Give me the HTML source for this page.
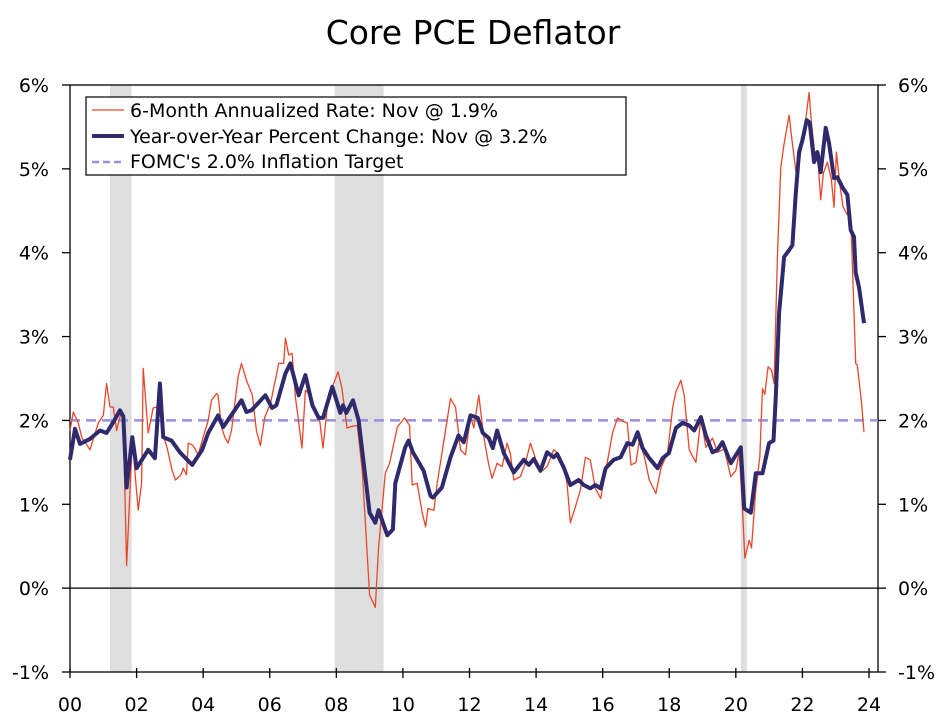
<!DOCTYPE html>
<html><head><meta charset="utf-8"><style>
html,body{margin:0;padding:0;background:#fff;}
svg{display:block;font-family:"DejaVu Sans","Liberation Sans",sans-serif;}
</style></head><body>
<svg id="chart" width="949" height="727" viewBox="0 0 949 727" xmlns="http://www.w3.org/2000/svg">
<text x="473" y="44" text-anchor="middle" font-size="33">Core PCE Deflator</text>
<g id="recessions"></g>
<g id="grid"></g>
<g id="series"></g>
<g>
<rect x="86" y="97" width="540" height="78" fill="#fff" stroke="#000" stroke-width="1.2"/>
<line x1="92" y1="110" x2="124" y2="110" stroke="#e8472a" stroke-width="1.3"/>
<text x="130" y="117" font-size="19">6-Month Annualized Rate: Nov @ 1.9%</text>
<line x1="92" y1="136" x2="124" y2="136" stroke="#2e2a6b" stroke-width="4"/>
<text x="130" y="143" font-size="19">Year-over-Year Percent Change: Nov @ 3.2%</text>
<line x1="92" y1="162" x2="124" y2="162" stroke="#9b8fe0" stroke-width="2.5" stroke-dasharray="7 4"/>
<text x="130" y="168" font-size="19">FOMC's 2.0% Inflation Target</text>
</g>
</svg>
<script>
const recessionStarts = [2001.2, 2007.95, 2020.15];
const recessionEnds = [2001.85, 2009.42, 2020.33];
const yTicks = [-1, 0, 1, 2, 3, 4, 5, 6];
const xTickYears = [2000,2002,2004,2006,2008,2010,2012,2014,2016,2018,2020,2022,2024];
const xTickLabels = ["00","02","04","06","08","10","12","14","16","18","20","22","24"];
const targetValue = 2.0;
const yoyDates = [2000.0,2000.15,2000.3,2000.6,2000.9,2001.1,2001.3,2001.5,2001.6,2001.7,2001.87,2002.0,2002.35,2002.55,2002.7,2002.8,2003.05,2003.3,2003.67,2003.97,2004.15,2004.45,2004.6,2005.05,2005.15,2005.3,2005.45,2005.87,2006.07,2006.2,2006.47,2006.62,2006.87,2007.07,2007.28,2007.47,2007.6,2007.88,2008.12,2008.2,2008.3,2008.5,2008.67,2009.0,2009.17,2009.27,2009.53,2009.7,2009.77,2010.07,2010.17,2010.3,2010.62,2010.83,2010.9,2011.17,2011.43,2011.67,2011.83,2012.03,2012.25,2012.4,2012.58,2012.7,2012.83,2013.03,2013.33,2013.63,2013.78,2013.93,2014.13,2014.33,2014.53,2014.63,2014.83,2015.03,2015.28,2015.43,2015.63,2015.78,2015.94,2016.09,2016.33,2016.54,2016.74,2016.9,2017.05,2017.2,2017.4,2017.65,2017.8,2017.99,2018.2,2018.4,2018.6,2018.75,2018.95,2019.1,2019.3,2019.45,2019.6,2019.85,2020.1,2020.15,2020.25,2020.45,2020.6,2020.8,2021.0,2021.13,2021.2,2021.3,2021.45,2021.6,2021.7,2021.8,2021.9,2022.0,2022.13,2022.22,2022.35,2022.45,2022.55,2022.7,2022.8,2022.95,2023.05,2023.2,2023.35,2023.45,2023.55,2023.6,2023.7,2023.85];
const yoyValues = [1.53,1.9,1.72,1.78,1.88,1.85,1.98,2.12,2.05,1.2,1.8,1.43,1.65,1.55,2.44,1.8,1.76,1.62,1.47,1.65,1.85,2.06,1.92,2.18,2.24,2.1,2.12,2.3,2.15,2.18,2.56,2.68,2.3,2.54,2.18,2.03,2.03,2.4,2.09,2.18,2.09,2.24,2.0,0.9,0.78,0.93,0.63,0.7,1.25,1.68,1.76,1.62,1.4,1.1,1.08,1.2,1.56,1.82,1.74,2.06,2.03,1.85,1.79,1.67,1.88,1.61,1.38,1.53,1.47,1.54,1.4,1.62,1.56,1.6,1.44,1.23,1.29,1.23,1.19,1.23,1.19,1.43,1.53,1.56,1.73,1.71,1.86,1.67,1.55,1.43,1.55,1.61,1.91,1.97,1.94,1.88,2.04,1.82,1.62,1.65,1.74,1.49,1.65,1.68,0.95,0.9,1.37,1.37,1.73,1.76,2.28,3.28,3.95,4.03,4.09,4.71,5.2,5.34,5.58,5.55,5.08,5.2,4.96,5.49,5.31,4.89,4.9,4.78,4.69,4.27,4.19,3.76,3.59,3.16];
const sixDates = [2000.0,2000.1,2000.25,2000.35,2000.6,2000.85,2001.0,2001.1,2001.2,2001.3,2001.4,2001.55,2001.6,2001.7,2001.87,2002.05,2002.15,2002.2,2002.35,2002.5,2002.65,2002.72,2002.82,2002.92,2003.07,2003.17,2003.33,2003.4,2003.5,2003.55,2003.7,2003.85,2004.0,2004.15,2004.25,2004.4,2004.45,2004.55,2004.65,2004.75,2004.85,2005.05,2005.15,2005.3,2005.48,2005.6,2005.72,2005.85,2006.02,2006.2,2006.27,2006.42,2006.47,2006.57,2006.67,2006.77,2006.97,2007.07,2007.25,2007.35,2007.5,2007.6,2007.77,2007.92,2008.05,2008.17,2008.32,2008.47,2008.63,2008.78,2009.0,2009.17,2009.27,2009.47,2009.6,2009.83,2010.05,2010.2,2010.28,2010.43,2010.58,2010.68,2010.75,2010.93,2011.03,2011.23,2011.43,2011.58,2011.73,2011.88,2012.03,2012.13,2012.28,2012.43,2012.58,2012.68,2012.83,2012.98,2013.13,2013.23,2013.33,2013.53,2013.68,2013.83,2013.98,2014.13,2014.33,2014.53,2014.68,2014.83,2014.93,2015.03,2015.18,2015.33,2015.48,2015.63,2015.78,2015.94,2016.09,2016.3,2016.45,2016.6,2016.74,2016.85,2017.0,2017.1,2017.25,2017.4,2017.6,2017.75,2017.95,2018.1,2018.2,2018.35,2018.45,2018.6,2018.8,2018.95,2019.1,2019.3,2019.45,2019.65,2019.85,2020.0,2020.1,2020.2,2020.27,2020.4,2020.47,2020.6,2020.72,2020.8,2020.87,2020.97,2021.07,2021.15,2021.25,2021.35,2021.45,2021.6,2021.7,2021.82,2021.97,2022.07,2022.2,2022.27,2022.37,2022.45,2022.55,2022.63,2022.75,2022.87,2022.95,2023.02,2023.12,2023.22,2023.35,2023.45,2023.6,2023.65,2023.77,2023.85];
const sixValues = [1.88,2.1,1.97,1.8,1.65,1.97,2.06,2.44,2.16,2.16,1.88,2.12,1.94,0.27,1.76,0.93,1.25,2.62,1.85,2.15,2.16,2.44,1.8,1.67,1.4,1.29,1.35,1.43,1.35,1.73,1.7,1.59,1.8,2.0,2.24,2.32,2.3,1.92,1.8,1.73,1.88,2.52,2.68,2.48,2.3,1.88,1.7,2.04,2.2,2.54,2.68,2.68,2.98,2.78,2.8,2.28,1.67,2.36,2.28,2.12,2.0,1.67,2.32,2.44,2.58,2.38,1.91,1.93,1.94,1.4,-0.08,-0.23,0.49,1.37,1.49,1.92,2.03,1.94,1.23,1.25,0.9,0.73,0.95,0.93,1.25,1.76,2.26,2.16,1.65,1.59,2.06,1.91,2.3,1.8,1.47,1.31,1.49,1.45,1.73,1.6,1.29,1.33,1.49,1.73,1.55,1.38,1.45,1.65,1.6,1.45,1.25,0.78,0.97,1.17,1.56,1.53,1.19,1.07,1.4,1.86,2.03,1.99,1.97,1.47,1.5,1.76,1.57,1.29,1.13,1.43,1.62,2.15,2.34,2.48,2.3,1.65,1.5,2.03,1.68,1.79,1.62,1.66,1.33,1.4,1.62,0.95,0.36,0.57,0.48,1.17,1.56,2.38,2.31,2.64,2.6,2.44,3.95,5.02,5.3,5.64,5.3,4.92,5.24,5.49,5.91,5.55,5.2,5.2,4.63,4.95,5.08,4.87,4.54,5.2,4.83,4.55,4.45,4.45,2.68,2.66,2.24,1.86];

const NS = "http://www.w3.org/2000/svg";
const L = 70, R = 878, T = 85, B = 672;
const xScale = y => L + (y - 2000) * (869 - 70) / 24;
const yScale = v => T + (6 - v) * (B - T) / 7;
function mk(tag, attrs, parent) {
  const e = document.createElementNS(NS, tag);
  for (const k in attrs) e.setAttribute(k, attrs[k]);
  parent.appendChild(e);
  return e;
}
const rec = document.getElementById('recessions');
recessionStarts.forEach((s, i) => {
  const r = mk('rect', {x: xScale(s), y: T, width: xScale(recessionEnds[i]) - xScale(s), height: B - T, fill: '#dedede'}, rec);
  
  
});
const g = document.getElementById('grid');
const frame = mk('rect', {x: L, y: T, width: R - L, height: B - T, fill: 'none', stroke: '#000', 'stroke-width': 1.3}, g);


yTicks.forEach(v => {
  const y = yScale(v);
  mk('line', {x1: L - 8, x2: L, y1: y, y2: y, stroke: '#000', 'stroke-width': 1.3}, g);
  mk('line', {x1: R, x2: R + 8, y1: y, y2: y, stroke: '#000', 'stroke-width': 1.3}, g);
  const t1 = mk('text', {x: 49, y: y + 7, 'text-anchor': 'end', 'font-size': 19}, g);
  t1.textContent = v + '%';
  
  
  const t2 = mk('text', {x: 898, y: y + 7, 'font-size': 19}, g);
  t2.textContent = v + '%';
  
  
});
const zl = mk('line', {x1: L, x2: R, y1: yScale(0), y2: yScale(0), stroke: '#000', 'stroke-width': 1.3}, g);


xTickYears.forEach((yr, i) => {
  const x = xScale(yr);
  mk('line', {x1: x, x2: x, y1: B - 4, y2: B + 6, stroke: '#000', 'stroke-width': 1.3}, g);
  const t = mk('text', {x: x, y: 711, 'text-anchor': 'middle', 'font-size': 19}, g);
  t.textContent = xTickLabels[i];
  
  
});
const s = document.getElementById('series');
const tl = mk('line', {x1: L, x2: R, y1: yScale(targetValue), y2: yScale(targetValue), stroke: '#9b8fe0', 'stroke-width': 2.5, 'stroke-dasharray': '10 6'}, s);


function pathFrom(dates, vals) {
  return dates.map((d, i) => (i ? 'L' : 'M') + xScale(d).toFixed(1) + ',' + yScale(vals[i]).toFixed(1)).join(' ');
}
const p1 = mk('path', {d: pathFrom(sixDates, sixValues), fill: 'none', stroke: '#e8472a', 'stroke-width': 1.3, 'stroke-linejoin': 'round'}, s);


const p2 = mk('path', {d: pathFrom(yoyDates, yoyValues), fill: 'none', stroke: '#2e2a6b', 'stroke-width': 4, 'stroke-linejoin': 'round'}, s);


</script>
</body></html>
